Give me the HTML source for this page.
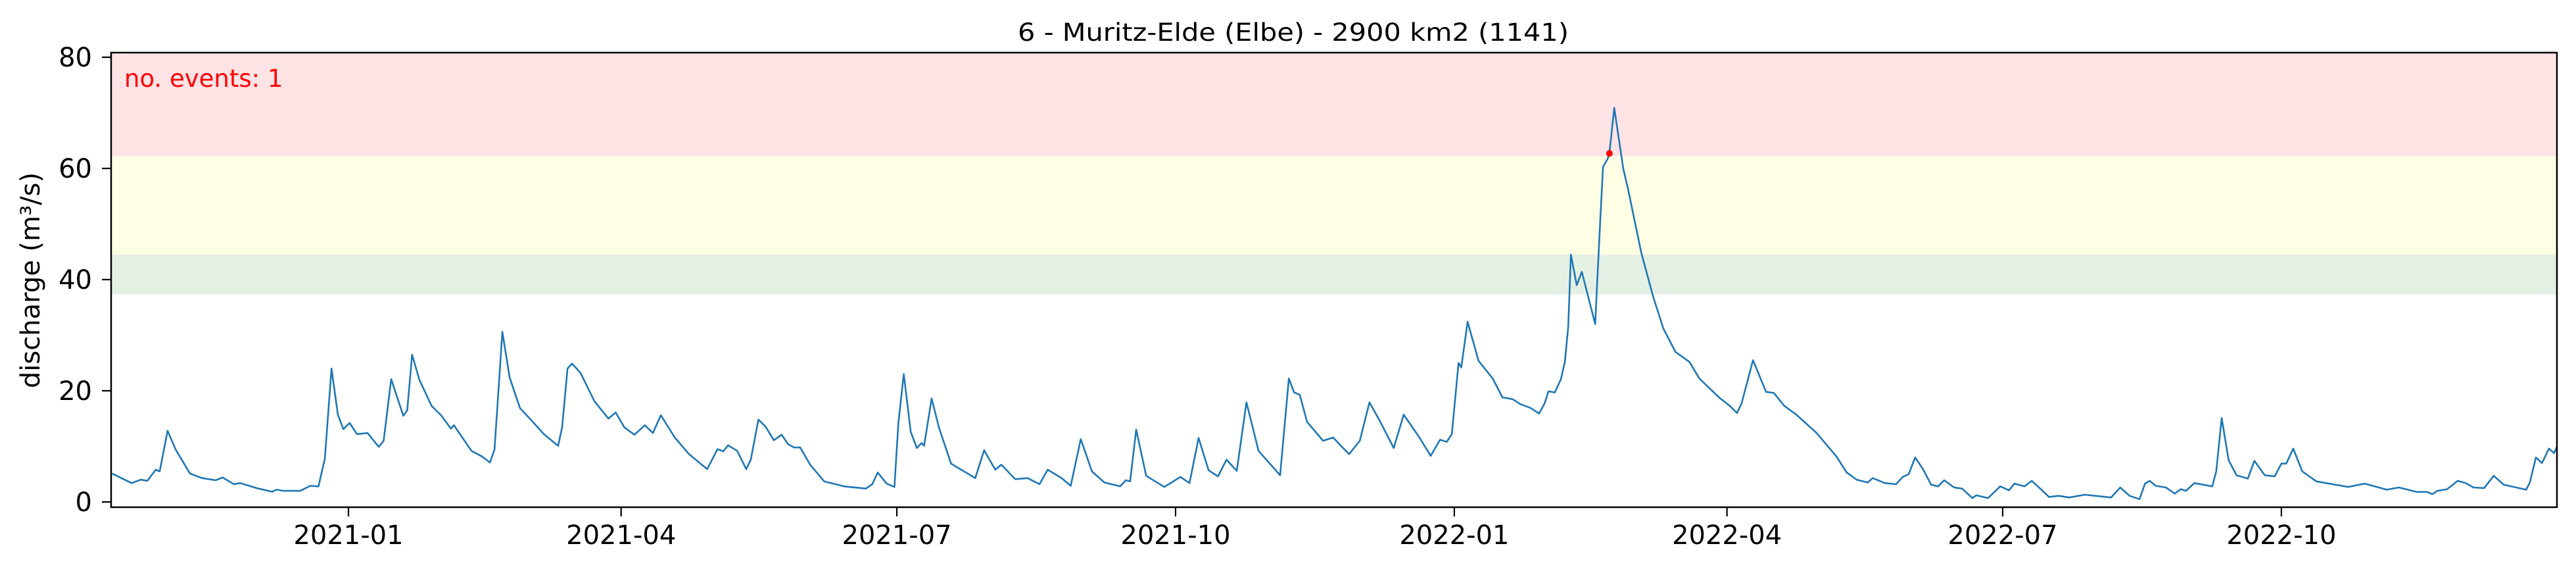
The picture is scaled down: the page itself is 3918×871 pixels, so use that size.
<!DOCTYPE html>
<html><head><meta charset="utf-8"><title>Discharge chart</title>
<style>
html,body{margin:0;padding:0;background:#fff;}
svg{display:block;font-family:"DejaVu Sans","Liberation Sans",sans-serif;}
</style></head>
<body>
<svg id="chart" width="3918" height="871" viewBox="0 0 3918 871" xmlns="http://www.w3.org/2000/svg">
  <defs><clipPath id="plotclip"><rect x="169" y="80" width="3720" height="691"/></clipPath></defs>
  <g id="bands" clip-path="url(#plotclip)"></g>
  <g id="series" clip-path="url(#plotclip)"></g>
  <rect x="169" y="80" width="3720" height="691" fill="none" stroke="#000" stroke-width="2.5"/>
  <g id="yaxis"></g>
  <g id="xaxis"></g>
  <text x="1967" y="62" font-size="37" text-anchor="middle" textLength="838" lengthAdjust="spacingAndGlyphs">6 - Muritz-Elde (Elbe) - 2900 km2 (1141)</text>
  <text x="0" y="0" font-size="40" text-anchor="middle" transform="translate(60,426) rotate(-90)">discharge (m³/s)</text>
  <text x="189" y="132" font-size="37" fill="#ff0000">no. events: 1</text>
</svg>
<script>
// day offsets relative to 2021-01-01
const days = [-78,-71.6,-68.6,-66.4,-63.6,-62.3,-59.7,-57,-52.3,-48.4,-43.8,-41.6,-37.8,-35.8,-29.7,-25.2,-23.8,-21.3,-15.9,-12.6,-9.9,-7.8,-5.6,-3.5,-1.7,0.4,2.8,6.3,10,11.6,14.1,18.1,19.4,21,23.4,27.4,30.7,33.8,34.8,40.6,44,46.7,48.2,50.8,53.2,56.6,61.2,64.5,69.2,70.5,72.3,73.8,76.6,81.2,85.8,88.2,91.1,94.4,97.8,100.5,103.1,107.7,112.4,118.4,121.8,123.7,125.3,128.3,131.3,132.8,135.3,137.6,140.4,143,145.1,147.1,149.1,152.4,157,163.6,170.8,172.9,174.7,177.6,180.2,181.5,183.3,185.6,187.6,189.2,190,192.5,194.9,198.9,206.9,209.8,213.5,215.5,220.1,224.1,228.1,230.8,235.4,238.4,241.7,245.4,249.5,254.7,256.6,258,260,263.3,269.3,274.6,277.6,280.6,283.9,287,289.8,293.2,296.4,300.4,307.5,310.4,312.1,314,316.4,321.7,325,327.6,330.3,333.8,337,340.3,345,348.3,353.5,357.2,360.3,362.5,364.2,366.4,367.3,369.4,373,377.7,380.9,384.2,386.8,390.2,393,394.8,396.1,398.2,400.2,401.5,402.6,403.5,405.4,407.1,411.5,413.2,414.1,415.6,416.2,417.8,420.8,422.3,426.7,430.6,434,438,442.6,445.9,452.6,455.9,458.3,459.8,463.6,467.9,470.5,473.9,477.9,484.6,491.1,494.5,497.8,501.5,503.1,507.1,510.8,513,515,517.1,519.7,522.4,524.7,526.7,530,532.6,536,537.3,541.2,545.2,548.1,549.9,553.2,555.6,558.6,561.3,564.5,567.9,573.2,581.8,584.8,587.9,591.2,593,594.5,596.5,599.9,602.8,604.8,606.5,609.3,615.2,616.5,618.3,620.6,623.2,626.9,629.1,632.5,635.8,638,639.6,641.9,644.9,649.5,660.1,665.5,672.8,676.8,682.7,686.1,687.9,689.5,692.7,696.2,698.8,701.4,704.9,708.1,711.4,718.8,720,722,724,726.3,728,729.2];
const discharge = [5.1,3.4,4.0,3.8,5.8,5.5,12.8,9.4,5.1,4.3,3.9,4.4,3.2,3.4,2.4,1.85,2.2,2.0,2.0,2.9,2.8,7.8,24.0,15.7,13.1,14.2,12.2,12.4,9.9,11.0,22.1,15.5,16.5,26.5,22.0,17.3,15.5,13.2,13.8,9.2,8.2,7.1,9.4,30.6,22.4,16.9,14.2,12.2,10.1,13.4,24.0,24.9,23.2,18.1,15.0,16.1,13.4,12.1,13.8,12.4,15.6,11.6,8.6,5.9,9.5,9.1,10.2,9.2,5.9,7.6,14.8,13.6,11.1,12.1,10.4,9.8,9.8,6.7,3.7,2.8,2.4,3.2,5.3,3.3,2.7,14.2,23.0,12.6,9.7,10.6,10.1,18.6,13.4,6.9,4.3,9.3,5.8,6.7,4.1,4.3,3.2,5.8,4.3,2.9,11.3,5.5,3.5,2.8,3.9,3.7,13.0,4.7,2.7,4.5,3.4,11.5,5.7,4.6,7.6,5.6,17.9,9.2,4.8,22.2,19.7,19.3,14.4,11.0,11.6,10.1,8.6,11.0,17.9,14.7,9.7,15.7,11.6,8.3,11.2,10.8,12.2,25.0,24.2,32.4,25.4,22.2,18.8,18.5,17.6,16.9,15.9,17.7,19.9,19.7,22.1,25.2,31.5,44.5,39.0,41.4,32.0,50.9,60.3,61.7,62.7,70.9,59.9,56.4,44.9,37.0,31.2,27.0,25.2,22.2,18.7,17.3,16.0,17.7,25.5,19.8,19.6,17.3,15.7,12.4,8.2,5.3,4.0,3.5,4.3,3.4,3.2,4.5,5.0,8.0,5.9,3.1,2.8,3.9,2.6,2.4,0.7,1.2,0.7,2.8,2.1,3.3,2.8,3.8,2.3,0.9,1.1,0.8,1.3,0.8,2.6,1.1,0.5,3.3,3.8,2.9,2.6,1.5,2.3,2.0,3.4,2.8,5.5,15.1,7.5,4.8,4.2,7.4,4.8,4.6,6.9,6.9,9.6,5.5,3.7,2.7,3.3,2.2,2.6,1.8,1.8,1.4,2.0,2.3,3.8,3.4,2.6,2.5,4.7,3.1,2.2,3.5,8.0,7.0,9.6,8.8,10.2];
const yTicks = [0,20,40,60,80];
const xTickDays = [0,90,181,273,365,455,546,638];
const xTickLabels = ["2021-01","2021-04","2021-07","2021-10","2022-01","2022-04","2022-07","2022-10"];
const bandLimits = [37.3,44.5,62.2,80.9];
const bandColors = ["#e5f0e4","#fefee4","#ffe3e5"];
const eventDay = [416.2];
const eventValue = [62.7];

const NS = "http://www.w3.org/2000/svg";
const X = d => 530 + d * 4.608;
const Y = v => 763 - 8.45 * v;
function mk(tag, attrs, parent){ const e=document.createElementNS(NS,tag); for(const k in attrs) e.setAttribute(k,attrs[k]); parent.appendChild(e); return e; }

const bands = document.getElementById('bands');
for (let i=0;i<bandColors.length;i++){
  const r = mk('rect',{x:169,y:Y(bandLimits[i+1]),width:3720,height:Y(bandLimits[i])-Y(bandLimits[i+1]),fill:bandColors[i]},bands);
  
  
}

const series = document.getElementById('series');
let d = '';
for (let i=0;i<days.length;i++){ d += (i?'L':'M') + X(days[i]).toFixed(1) + ',' + Y(discharge[i]).toFixed(1); }
const line = mk('path',{d:d,fill:'none',stroke:'#1f77b4','stroke-width':2.6,'stroke-linejoin':'round'},series);


for (let i=0;i<eventDay.length;i++){
  const c = mk('circle',{cx:X(eventDay[i]),cy:Y(eventValue[i]),r:5,fill:'#ff0000'},series);
  
  
}

const yaxis = document.getElementById('yaxis');
yTicks.forEach(v=>{
  const t = mk('line',{x1:155,x2:169,y1:Y(v),y2:Y(v),stroke:'#000','stroke-width':2.2},yaxis);
  
  
  const l = mk('text',{x:140,y:Y(v)+14,'font-size':40,'text-anchor':'end'},yaxis);
  l.textContent = v;
  
  
});
const xaxis = document.getElementById('xaxis');
xTickDays.forEach((dd,i)=>{
  const t = mk('line',{x1:X(dd),x2:X(dd),y1:771,y2:785,stroke:'#000','stroke-width':2.2},xaxis);
  
  
  const l = mk('text',{x:X(dd),y:827,'font-size':40,'text-anchor':'middle'},xaxis);
  l.textContent = xTickLabels[i];
  
  
});
</script>
</body></html>
